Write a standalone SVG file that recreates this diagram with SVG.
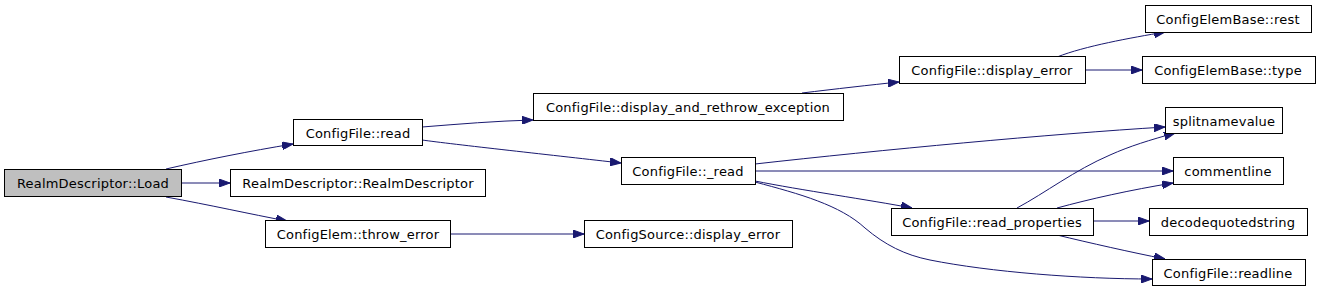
<svg xmlns="http://www.w3.org/2000/svg" width="1320" height="291" viewBox="0 0 1320 291">
<defs>
<marker id="ah" markerUnits="userSpaceOnUse" markerWidth="11" markerHeight="8" refX="11" refY="4" orient="auto">
<path d="M0,0 L11,4 L0,8 z" fill="#191970" stroke="#191970" stroke-width="1"/>
</marker>
<style>
.n rect{fill:#ffffff;stroke:#000000;stroke-width:1}
.n text{font-family:"DejaVu Sans",sans-serif;font-size:13px;letter-spacing:0.2px;fill:#000000;text-anchor:middle}
.r rect{fill:#bfbfbf}
.e path{fill:none;stroke:#191970;stroke-width:1;marker-end:url(#ah)}
</style>
</defs>
<rect width="1320" height="291" fill="#ffffff"/>
<g id="edges" class="e">
<path d="M166,169 C205,160 250,151 293,144"/>
<path d="M182,183 L230,183"/>
<path d="M166,197 C210,205 250,214 287,221"/>
<path d="M422,127 C460,124 495,121 533,120"/>
<path d="M422,140 C450,144 560,156 621,163"/>
<path d="M450,234 L584,234"/>
<path d="M802,93 C835,89 870,85 899,82"/>
<path d="M1057,57 C1085,46 1130,38 1165,32"/>
<path d="M1085,70 L1142,70"/>
<path d="M755,164 C880,150 1050,134 1165,127"/>
<path d="M755,171 L1173,171"/>
<path d="M755,181 C800,190 870,200 912,208"/>
<path d="M755,182 C800,194 840,205 865,228 C885,245 905,255 930,260 C990,272 1080,279 1152,279"/>
<path d="M1017,208 C1045,193 1075,170 1110,155 C1130,146 1150,140 1175,133"/>
<path d="M1057,208 C1090,199 1130,190 1173,183"/>
<path d="M1093,221 L1149,221"/>
<path d="M1057,235 C1090,243 1130,252 1165,259"/>
</g>
<g id="load" class="n r"><rect x="4.5" y="169.5" width="177" height="27"/><text x="93" y="187.5">RealmDescriptor::Load</text></g>
<g id="read" class="n"><rect x="293.5" y="119.5" width="129" height="26"/><text x="358" y="137.5">ConfigFile::read</text></g>
<g id="realmdesc" class="n"><rect x="230.5" y="169.5" width="255" height="27"/><text x="358" y="187.5">RealmDescriptor::RealmDescriptor</text></g>
<g id="throw" class="n"><rect x="265.5" y="220.5" width="185" height="27"/><text x="358" y="238.5">ConfigElem::throw_error</text></g>
<g id="dare" class="n"><rect x="533.5" y="93.5" width="310" height="27"/><text x="688" y="111.5">ConfigFile::display_and_rethrow_exception</text></g>
<g id="_read" class="n"><rect x="621.5" y="157.5" width="134" height="27"/><text x="688" y="175.5">ConfigFile::_read</text></g>
<g id="srcerr" class="n"><rect x="584.5" y="220.5" width="208" height="27"/><text x="688" y="238.5">ConfigSource::display_error</text></g>
<g id="disperr" class="n"><rect x="899.5" y="56.5" width="186" height="27"/><text x="992" y="74.5">ConfigFile::display_error</text></g>
<g id="readprops" class="n"><rect x="891.5" y="208.5" width="202" height="27"/><text x="992" y="226.5">ConfigFile::read_properties</text></g>
<g id="rest" class="n"><rect x="1145.5" y="5.5" width="166" height="27"/><text x="1228" y="23.5">ConfigElemBase::rest</text></g>
<g id="type" class="n"><rect x="1142.5" y="56.5" width="173" height="27"/><text x="1228" y="74.5">ConfigElemBase::type</text></g>
<g id="split" class="n"><rect x="1165.5" y="107.5" width="117" height="26"/><text x="1224" y="125.5">splitnamevalue</text></g>
<g id="comment" class="n"><rect x="1173.5" y="157.5" width="110" height="27"/><text x="1228" y="175.5">commentline</text></g>
<g id="decode" class="n"><rect x="1149.5" y="208.5" width="158" height="27"/><text x="1228" y="226.5">decodequotedstring</text></g>
<g id="readline" class="n"><rect x="1152.5" y="259.5" width="153" height="26"/><text x="1228" y="277.5">ConfigFile::readline</text></g>
</svg>
